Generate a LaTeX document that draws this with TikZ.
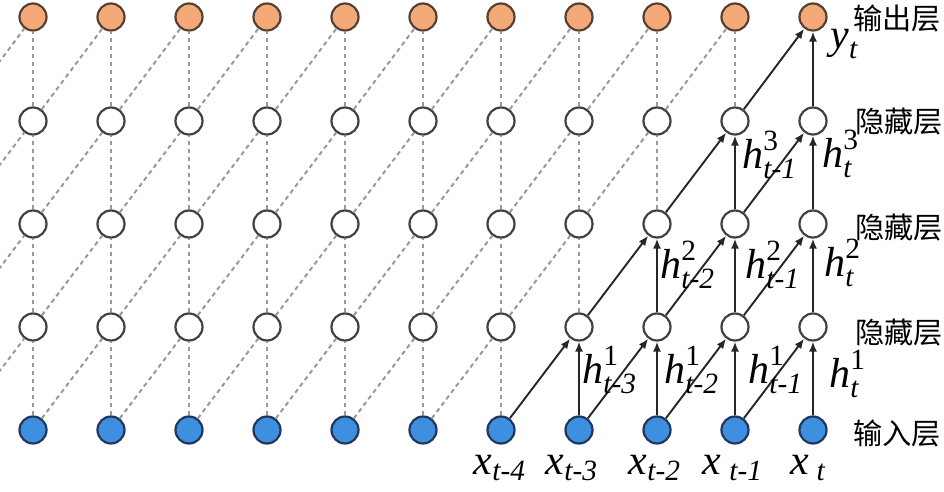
\documentclass[tikz,border=0pt]{standalone}
\usepackage{amsmath}
\usepackage{fontspec}
\setmainfont{Liberation Serif}
\newfontfamily\cjk{Noto Sans CJK SC}
\usetikzlibrary{arrows.meta}
\definecolor{outfill}{RGB}{244,170,120}
\definecolor{outdraw}{RGB}{85,65,50}
\definecolor{infill}{RGB}{62,143,224}
\definecolor{indraw}{RGB}{30,55,90}
\newcommand{\hvec}[2]{$\textit{h}^{\text{#1}}_{\textit{t#2}}$}
\tikzset{
  unit/.style={circle,draw=black!75,fill=white,line width=1.1pt,minimum size=13.5pt,inner sep=0pt},
  inunit/.style={unit,draw=indraw,fill=infill},
  outunit/.style={unit,draw=outdraw,fill=outfill},
  dline/.style={gray!80,line width=1pt,dash pattern=on 2.2pt off 1.8pt},
  arr/.style={black!85,line width=0.95pt,-{Latex[length=5pt,width=4pt]}},
  lab/.style={font=\fontsize{21}{23}\selectfont,inner sep=0pt},
  layer/.style={font=\cjk\fontsize{14.6}{17}\selectfont,anchor=west,inner sep=0pt}
}
\begin{document}
\begin{tikzpicture}[x=0.5pt,y=-0.5pt]
\clip (0,0) rectangle (944,492);
% units
\foreach \i in {0,...,10} {
  \pgfmathsetmacro\cx{33+78*\i}
  \node[inunit] (in\i) at (\cx,430) {};
  \node[unit] (hA\i) at (\cx,327) {};
  \node[unit] (hB\i) at (\cx,224) {};
  \node[unit] (hC\i) at (\cx,121) {};
  \node[outunit] (out\i) at (\cx,17) {};
}
\coordinate (inL) at (-45,430);
\coordinate (hAL) at (-45,327);
\coordinate (hBL) at (-45,224);
\coordinate (hCL) at (-45,121);
\draw[dline] (inL) -- (hA0);
\draw[dline] (hAL) -- (hB0);
\draw[dline] (hBL) -- (hC0);
\draw[dline] (hCL) -- (out0);
% vertical links
\foreach \i in {0,...,10} {
  \foreach \a/\b [count=\r from 0] in {in/hA,hA/hB,hB/hC,hC/out} {
    \pgfmathtruncatemacro\lim{7+\r}
    \ifnum\i<\lim \draw[dline] (\a\i) -- (\b\i); \else \draw[arr] (\a\i) -- (\b\i); \fi
  }
}
% diagonal links
\foreach \i [evaluate=\i as \j using int(\i+1)] in {0,...,9} {
  \foreach \a/\b [count=\r from 0] in {in/hA,hA/hB,hB/hC,hC/out} {
    \pgfmathtruncatemacro\lim{6+\r}
    \ifnum\i<\lim \draw[dline] (\a\i) -- (\b\j); \else \draw[arr] (\a\i) -- (\b\j); \fi
  }
}
% state labels
\node[lab,anchor=west] (hA7l) at (582,370) {\hvec{1}{-3}};
\node[lab,anchor=west] (hA8l) at (664,370) {\hvec{1}{-2}};
\node[lab,anchor=west] (hA9l) at (748,370) {\hvec{1}{-1}};
\node[lab,anchor=west] (hA10l) at (829,374) {\hvec{1}{}};
\node[lab,anchor=west] (hB8l) at (660,265) {\hvec{2}{-2}};
\node[lab,anchor=west] (hB9l) at (745,265) {\hvec{2}{-1}};
\node[lab,anchor=west] (hB10l) at (824,263) {\hvec{2}{}};
\node[lab,anchor=west] (hC9l) at (742,155) {\hvec{3}{-1}};
\node[lab,anchor=west] (hC10l) at (822,154) {\hvec{3}{}};
\node[lab,anchor=west] (yl) at (830,44) {$\textit{y}_{\textit{t}}$};
% inputs
\node[lab] (x6l) at (500,468) {$\textit{x}_{\textit{t-4}}$};
\node[lab] (x7l) at (572,468) {$\textit{x}_{\textit{t-3}}$};
\node[lab] (x8l) at (655,468) {$\textit{x}_{\textit{t-2}}$};
\node[lab] (x9l) at (733,468) {$\textit{x}_{\;\textit{t-1}}$};
\node[lab] (x10l) at (808,468) {$\textit{x}_{\;\textit{t}}$};
% layer names
\node[layer] (Lout) at (853,18) {输出层};
\node[layer] (LC) at (855,122) {隐藏层};
\node[layer] (LB) at (855,228) {隐藏层};
\node[layer] (LA) at (855,333) {隐藏层};
\node[layer] (Lin) at (853,433) {输入层};
\end{tikzpicture}
\end{document}
